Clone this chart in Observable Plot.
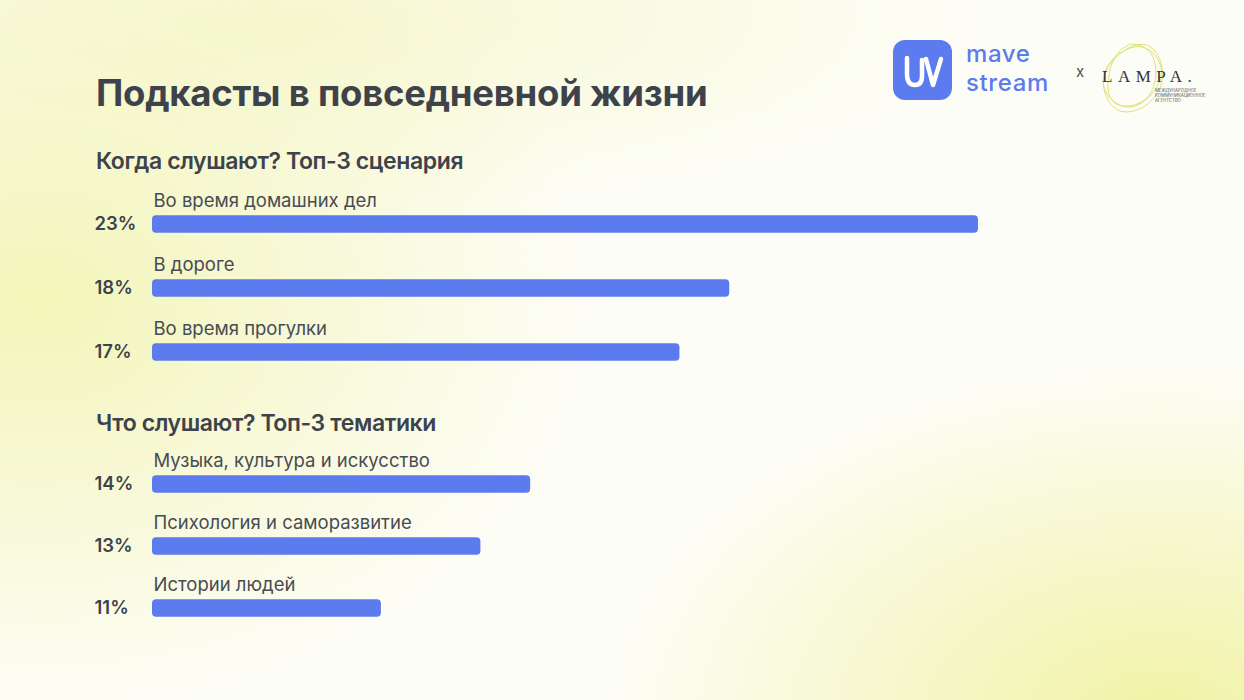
<!DOCTYPE html>
<html>
<head>
<meta charset="utf-8">
<script src="https://cdn.jsdelivr.net/npm/d3@7"></script>
<script src="https://cdn.jsdelivr.net/npm/@observablehq/plot@0.6"></script>
<style>
  html, body { margin: 0; padding: 0; }
  body { width: 1244px; height: 700px; overflow: hidden; font-family: Inter, "Noto Sans", sans-serif; }
  #page {
    position: relative; width: 1244px; height: 700px; overflow: hidden;
    background:
      radial-gradient(ellipse 560px 360px at 1160px 720px, rgba(240,242,160,0.95), rgba(240,242,160,0) 100%),
      radial-gradient(ellipse 560px 420px at 40px 300px, rgba(243,245,185,1), rgba(243,245,185,0) 100%),
      radial-gradient(ellipse 700px 200px at 300px 20px, rgba(246,247,205,0.9), rgba(246,247,205,0) 100%),
      #fdfdf7;
  }
  .abs { position: absolute; margin: 0; white-space: nowrap; }
  h1.abs { left: 96px; top: 71px; font-size: 36.5px; font-weight: 700; color: #3e434b; letter-spacing: -0.25px; }
  h2.abs { left: 96px; font-size: 23px; font-weight: 600; color: #3e434b; letter-spacing: -0.4px; }
  .chart { position: absolute; left: 0; }
  .logo-text { position: absolute; left: 966px; color: #5b7bef; font-size: 24px; font-weight: 500; line-height: 28px; letter-spacing: 0.6px; }
</style>
</head>
<body>
<div id="page">
  <h1 class="abs">Подкасты в повседневной жизни</h1>
  <h2 class="abs" id="sub1" style="top:147px">Когда слушают? Топ-3 сценария</h2>
  <h2 class="abs" id="sub2" style="top:409px">Что слушают? Топ-3 тематики</h2>
  <div class="chart" id="chart1" style="top:192px"></div>
  <div class="chart" id="chart2" style="top:453px"></div>

  <!-- logos -->
  <svg class="abs" style="left:880px;top:30px" width="340" height="90" viewBox="0 0 340 90">
    <rect x="13" y="10" width="59" height="60" rx="12" fill="#5b7bef"/>
    <path d="M27 28 V44 Q27 55 35 55 Q42 55 42 46 V30 M46 29 L53 55 L61 29" fill="none" stroke="#fff" stroke-width="4.5" stroke-linecap="round" stroke-linejoin="round"/>
    <text x="196" y="47" fill="#4a4e55" font-family="Inter, sans-serif" font-size="15">x</text>
    <g fill="none" stroke="#dfe07a" stroke-width="1">
      <path d="M245 20 Q270 5 280 30 Q290 60 262 78 Q236 90 226 66 Q216 40 245 20 Z"/>
      <path d="M232 30 Q255 8 272 22 Q292 42 270 66 Q250 86 232 70 Q214 52 232 30 Z"/>
      <path d="M250 14 Q276 14 276 44 Q274 72 250 76 Q226 78 228 52 Q230 22 250 14 Z"/>
    </g>
    <text x="222" y="52" fill="#2f3338" font-family="'Liberation Serif', serif" font-size="17" letter-spacing="5.5">LAMPA.</text>
    <text x="275" y="62" fill="#555" font-family="Inter, sans-serif" font-size="4.3">МЕЖДУНАРОДНОЕ</text>
    <text x="275" y="67" fill="#555" font-family="Inter, sans-serif" font-size="4.3">КОММУНИКАЦИОННОЕ</text>
    <text x="275" y="72" fill="#555" font-family="Inter, sans-serif" font-size="4.3">АГЕНТСТВО</text>
  </svg>
  <div class="logo-text" style="top:40px">mave</div>
  <div class="logo-text" style="top:69px">stream</div>
</div>
<script>
// ---- data ----
const whenCategories = ["Во время домашних дел", "В дороге", "Во время прогулки"];
const whenValues = [23, 18, 17];
const whatCategories = ["Музыка, культура и искусство", "Психология и саморазвитие", "Истории людей"];
const whatValues = [14, 13, 11];
const xBaseline = 6.4;   // the bars start from a truncated axis
const xMax = 23;

function build(categories, values, step) {
  const data = categories.map((c, i) => ({category: c, value: values[i], label: values[i] + "%"}));
  const barH = 17.5;
  const inset = (step - barH) / 2;
  return Plot.plot({
    width: 1244,
    height: step * categories.length,
    marginLeft: 152,
    marginRight: 266,
    marginTop: 0,
    marginBottom: 0,
    style: {background: "transparent", overflow: "visible", fontFamily: "Inter, 'Noto Sans', sans-serif"},
    x: {domain: [xBaseline, xMax], axis: null},
    y: {domain: categories, axis: null, padding: 0},
    marks: [
      Plot.barX(data, {x1: () => xBaseline, x2: "value", y: "category", fill: "#5b7bef", rx: 4, insetTop: inset, insetBottom: inset}),
      Plot.text(data, {x: () => xBaseline, y: "category", text: "category", textAnchor: "start", dx: 1, dy: -23, fontSize: 18.5, letterSpacing: "-0.4px", fill: "#474b53"}),
      Plot.text(data, {x: () => xBaseline, y: "category", text: "label", textAnchor: "start", dx: -58, dy: 0, fontSize: 18.5, fontWeight: 600, letterSpacing: "-0.3px", fill: "#3e434b"})
    ]
  });
}

document.getElementById("chart1").appendChild(build(whenCategories, whenValues, 64));
document.getElementById("chart2").appendChild(build(whatCategories, whatValues, 62));
</script>
</body>
</html>
